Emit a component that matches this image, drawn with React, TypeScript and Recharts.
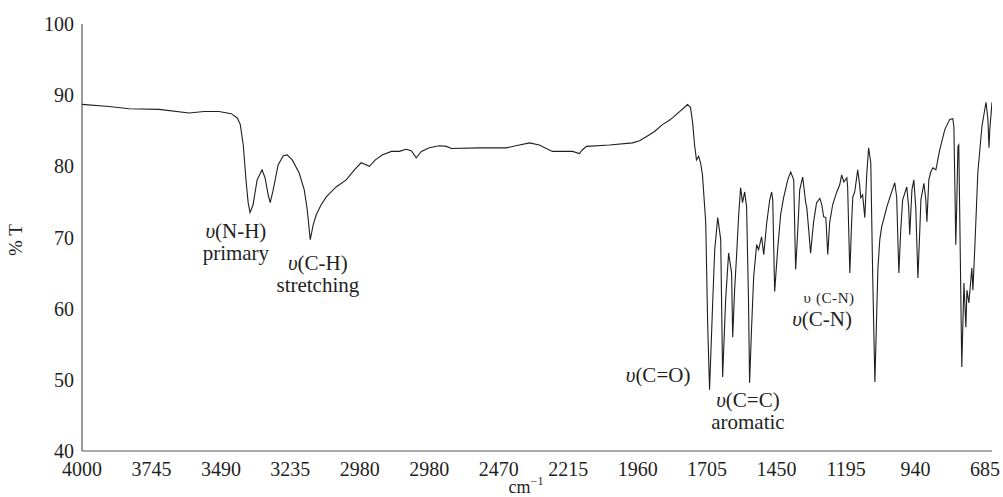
import React from "react";
import { Line, LineChart, ReferenceDot, XAxis, YAxis } from "recharts";

// [wavenumber cm-1, % transmittance]
const SPECTRUM: [number, number][] = [
  [4000, 88.7], [3901, 88.4], [3827, 88.1], [3717, 88.0], [3607, 87.5],
  [3552, 87.7], [3497, 87.7], [3452, 87.4], [3430, 86.8], [3419, 85.9],
  [3408, 83.0], [3397, 77.7], [3390, 74.9], [3383, 73.5], [3372, 74.6],
  [3357, 78.1], [3339, 79.5], [3328, 78.4], [3316, 75.9], [3309, 74.9],
  [3298, 76.7], [3280, 80.2], [3261, 81.5], [3247, 81.6], [3228, 80.9],
  [3203, 79.1], [3184, 76.7], [3173, 73.9], [3162, 69.7], [3151, 71.8],
  [3140, 73.2], [3122, 74.6], [3103, 75.7], [3067, 77.1], [3030, 78.1],
  [3000, 79.5], [2975, 80.5], [2945, 80.0], [2923, 80.9], [2898, 81.6],
  [2864, 82.1], [2835, 82.1], [2810, 82.4], [2791, 82.2], [2773, 81.2],
  [2754, 82.1], [2725, 82.6], [2688, 82.9], [2662, 82.8], [2644, 82.5],
  [2541, 82.6], [2442, 82.6], [2394, 83.0], [2357, 83.3], [2321, 83.0],
  [2273, 82.1], [2199, 82.1], [2174, 81.8], [2163, 82.3], [2148, 82.8],
  [2063, 83.0], [1979, 83.3], [1953, 83.6], [1927, 84.2], [1898, 84.9],
  [1868, 85.9], [1850, 86.3], [1832, 86.8], [1806, 87.7], [1788, 88.3],
  [1777, 88.7], [1766, 88.3], [1758, 86.1], [1751, 83.0], [1744, 80.9],
  [1736, 81.4], [1729, 80.5], [1722, 78.8], [1710, 72.1], [1703, 58.0],
  [1696, 48.6], [1685, 60.3], [1677, 68.3], [1666, 72.8], [1655, 69.7],
  [1648, 50.4], [1637, 61.2], [1626, 67.8], [1615, 65.0], [1611, 56.0],
  [1604, 62.6], [1597, 67.3], [1589, 73.2], [1582, 77.0], [1575, 74.9],
  [1567, 76.4], [1560, 74.3], [1553, 61.2], [1549, 49.6], [1542, 57.0],
  [1534, 64.5], [1523, 69.0], [1516, 68.3], [1505, 70.1], [1497, 67.6],
  [1486, 72.1], [1475, 75.3], [1468, 76.4], [1464, 75.3], [1457, 62.4],
  [1446, 68.3], [1435, 73.2], [1424, 75.6], [1409, 78.1], [1398, 79.2],
  [1387, 78.1], [1380, 65.5], [1372, 71.1], [1365, 76.7], [1354, 78.5],
  [1343, 74.9], [1339, 74.2], [1332, 71.1], [1325, 67.8], [1314, 72.2],
  [1303, 74.9], [1291, 75.5], [1284, 74.6], [1277, 72.9], [1269, 72.8],
  [1262, 67.6], [1255, 72.1], [1244, 74.6], [1229, 76.4], [1218, 77.4],
  [1211, 78.8], [1203, 77.8], [1192, 78.4], [1189, 77.1], [1181, 65.0],
  [1174, 72.5], [1170, 75.7], [1163, 76.4], [1152, 79.5], [1145, 77.4],
  [1141, 75.6], [1134, 76.0], [1126, 72.8], [1119, 78.8], [1112, 82.6],
  [1104, 80.5], [1097, 64.5], [1089, 49.7], [1078, 65.5], [1071, 69.7],
  [1064, 71.5], [1045, 74.3], [1031, 76.0], [1016, 77.7], [1009, 75.7],
  [1001, 65.0], [994, 71.1], [987, 75.3], [972, 77.1], [965, 74.3],
  [961, 70.4], [953, 76.7], [946, 78.1], [939, 74.3], [931, 64.3],
  [924, 71.1], [920, 75.3], [909, 77.6], [902, 75.3], [898, 72.2],
  [891, 78.1], [884, 79.2], [876, 79.8], [865, 79.5], [851, 82.3],
  [832, 85.2], [814, 86.6], [803, 86.7], [799, 85.6], [795, 76.7],
  [792, 69.0], [788, 75.3], [784, 82.8], [781, 83.0], [777, 72.1],
  [770, 51.8], [762, 63.6], [755, 57.4], [751, 62.6], [744, 60.8],
  [733, 65.7], [729, 62.6], [722, 68.7], [711, 79.1], [696, 85.6],
  [681, 89.0], [674, 86.6], [670, 82.6], [667, 85.2], [659, 89.0],
];

const X_TICKS = [4000, 3745, 3490, 3235, 2980, 2725, 2470, 2215, 1960, 1705, 1450, 1195, 940, 685];
// the original figure repeats "2980" on the sixth tick
const X_TICK_LABELS = ["4000", "3745", "3490", "3235", "2980", "2980", "2470", "2215", "1960", "1705", "1450", "1195", "940", "685"];
const Y_TICKS = [40, 50, 60, 70, 80, 90, 100];

// band labels, anchored at the first line's baseline (data coords)
const ANNOTATIONS = [
  { wn: 3435, t: 70.0, lines: ["υ|(N-H)", "primary"] },
  { wn: 3134, t: 65.4, lines: ["υ|(C-H)", "stretching"] },
  { wn: 1885, t: 49.7, lines: ["υ|(C=O)"] },
  { wn: 1555, t: 46.2, lines: ["υ|(C=C)", "aromatic"] },
  { wn: 1283, t: 57.5, lines: ["υ|(C-N)"] },
];
const SMALL_NOTE = { wn: 1257, t: 60.8, text: "υ (C-N)" };

const rows = SPECTRUM.map(([wn, t]) => ({ wn, t }));
const FONT = "'Liberation Serif', 'Times New Roman', serif";
const INK = "#1f1f1f";

function Ann({ viewBox, lines }: any) {
  const cx = viewBox.x + viewBox.width / 2;
  const cy = viewBox.y + viewBox.height / 2;
  return (
    <text x={cx} y={cy} textAnchor="middle" fontFamily={FONT} fontSize={21} fill={INK}>
      {lines.map((l: string, i: number) => {
        const [sym, rest] = l.includes("|") ? l.split("|") : ["", l];
        return (
          <tspan key={i} x={cx} dy={i === 0 ? 0 : 22}>
            {sym && <tspan fontStyle="italic">{sym}</tspan>}
            {rest}
          </tspan>
        );
      })}
    </text>
  );
}

function SmallAnn({ viewBox, text }: any) {
  const cx = viewBox.x + viewBox.width / 2;
  const cy = viewBox.y + viewBox.height / 2;
  return (
    <text x={cx} y={cy} textAnchor="middle" fontFamily={FONT} fontSize={15} letterSpacing={0.6} fill={INK}>
      {text}
    </text>
  );
}

export default function App() {
  return (
    <div style={{ position: "absolute", left: 0, top: 0, width: 1003, height: 497, background: "#fff" }}>
      <LineChart width={1003} height={497} data={rows} margin={{ top: 24, right: 11, bottom: 16, left: 42 }}>
        <XAxis
          type="number"
          dataKey="wn"
          domain={[659, 4000]}
          reversed
          allowDataOverflow
          ticks={X_TICKS}
          interval={0}
          tickFormatter={(v: number) => X_TICK_LABELS[X_TICKS.indexOf(v)] ?? String(v)}
          tickLine={false}
          tickMargin={5}
          height={30}
          axisLine={{ stroke: "#555" }}
          tick={{ fontSize: 20, fill: INK, fontFamily: FONT }}
          label={{
            content: ({ viewBox }: any) => (
              <text x={viewBox.x + viewBox.width / 2 - 11} y={viewBox.y + 42} textAnchor="middle" fontFamily={FONT} fontSize={18} fill={INK}>
                cm<tspan fontSize={12} dy={-8}>−1</tspan>
              </text>
            ),
          }}
        />
        <YAxis
          type="number"
          domain={[40, 100]}
          ticks={Y_TICKS}
          interval={0}
          width={40}
          tickLine={false}
          axisLine={{ stroke: "#333" }}
          tick={{ fontSize: 20, fill: INK, fontFamily: FONT }}
          label={{
            content: () => (
              <text x={22} y={240} transform="rotate(-90 22 240)" textAnchor="middle" fontFamily={FONT} fontSize={19} fill={INK}>
                % T
              </text>
            ),
          }}
        />
        <Line
          type="linear"
          dataKey="t"
          stroke={INK}
          strokeWidth={1.1}
          dot={false}
          isAnimationActive={false}
        />
        {ANNOTATIONS.map((a, i) => (
          <ReferenceDot
            key={i}
            x={a.wn}
            y={a.t}
            r={0}
            fill="none"
            stroke="none"
            label={(p: any) => <Ann viewBox={p.viewBox} lines={a.lines} />}
          />
        ))}
        <ReferenceDot
          x={SMALL_NOTE.wn}
          y={SMALL_NOTE.t}
          r={0}
          fill="none"
          stroke="none"
          label={(p: any) => <SmallAnn viewBox={p.viewBox} text={SMALL_NOTE.text} />}
        />
      </LineChart>
    </div>
  );
}
